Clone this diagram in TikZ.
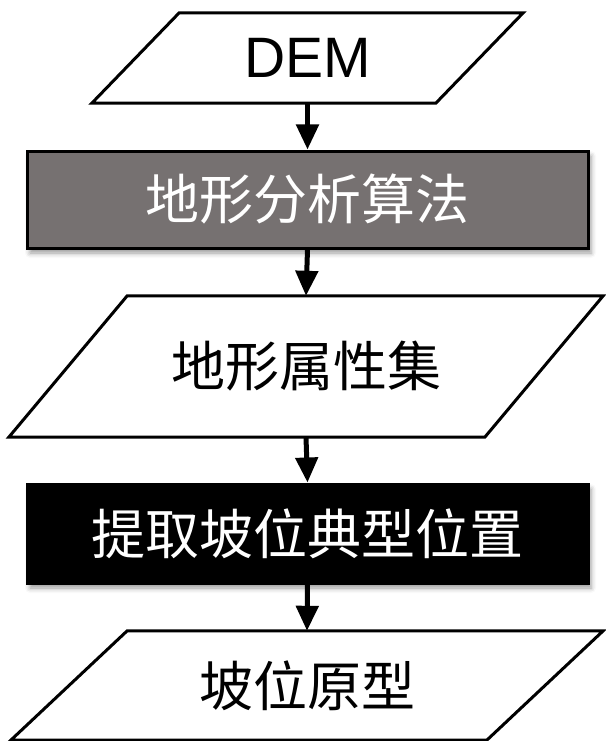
\documentclass[tikz,border=0pt]{standalone}
\usepackage{fontspec}
\setmainfont{Liberation Sans}
\newfontfamily\cjk{Noto Sans CJK SC}
\usetikzlibrary{arrows.meta,shadows.blur}
\definecolor{boxgray}{RGB}{118,113,113}
\tikzset{
  paraframe/.style={draw=none, inner sep=0pt, text=black},
  paraline/.style={draw=black, line width=3pt, line join=miter, fill=white},
  procbox/.style={draw=black, line width=3pt, inner sep=0pt, text=white,
    blur shadow={shadow xshift=3pt, shadow yshift=-5pt, shadow blur radius=5pt, shadow opacity=40}},
  flowarrow/.style={draw=black, line width=5pt, -{Triangle[width=22pt,length=25pt]}},
  cjktext/.style={font=\cjk\fontsize{54}{60}\selectfont},
  demtext/.style={font=\fontsize{57}{62}\selectfont}
}
\begin{document}
\begin{tikzpicture}[x=1pt, y=-1pt]
\useasboundingbox (0,0) rectangle (605,741);
% DEM parallelogram
\node[paraframe, minimum width=431pt, minimum height=90pt] (dem) at (307.5,58) {};
\draw[paraline] (dem.south west) -- ++(344,0) -- (dem.north east) -- ++(-344,0) -- cycle;
\node[demtext] (demlabel) at (dem.center) {DEM};
% terrain analysis algorithm
\node[procbox, fill=boxgray, minimum width=561pt, minimum height=97pt, cjktext] (alg) at (307.5,199.5) {地形分析算法};
% terrain attribute set
\node[paraframe, minimum width=594pt, minimum height=141pt] (attr) at (306,366.5) {};
\draw[paraline] (attr.south west) -- ++(476,0) -- (attr.north east) -- ++(-476,0) -- cycle;
\node[cjktext] (attrlabel) at (attr.center) {地形属性集};
% extraction box
\node[procbox, fill=black, minimum width=561pt, minimum height=99pt, cjktext] (ext) at (307.5,533.5) {提取坡位典型位置};
% slope position prototype
\node[paraframe, minimum width=592pt, minimum height=109pt] (proto) at (307,685.5) {};
\draw[paraline] (proto.south west) -- ++(476,0) -- (proto.north east) -- ++(-476,0) -- cycle;
\node[cjktext] (protolabel) at (proto.center) {坡位原型};
% connectors
\draw[flowarrow] (dem.south) -- (alg.north);
\draw[flowarrow] (alg.south) -- (attr.north);
\draw[flowarrow] (attr.south) -- (ext.north);
\draw[flowarrow] (ext.south) -- (proto.north);
\end{tikzpicture}
\end{document}
